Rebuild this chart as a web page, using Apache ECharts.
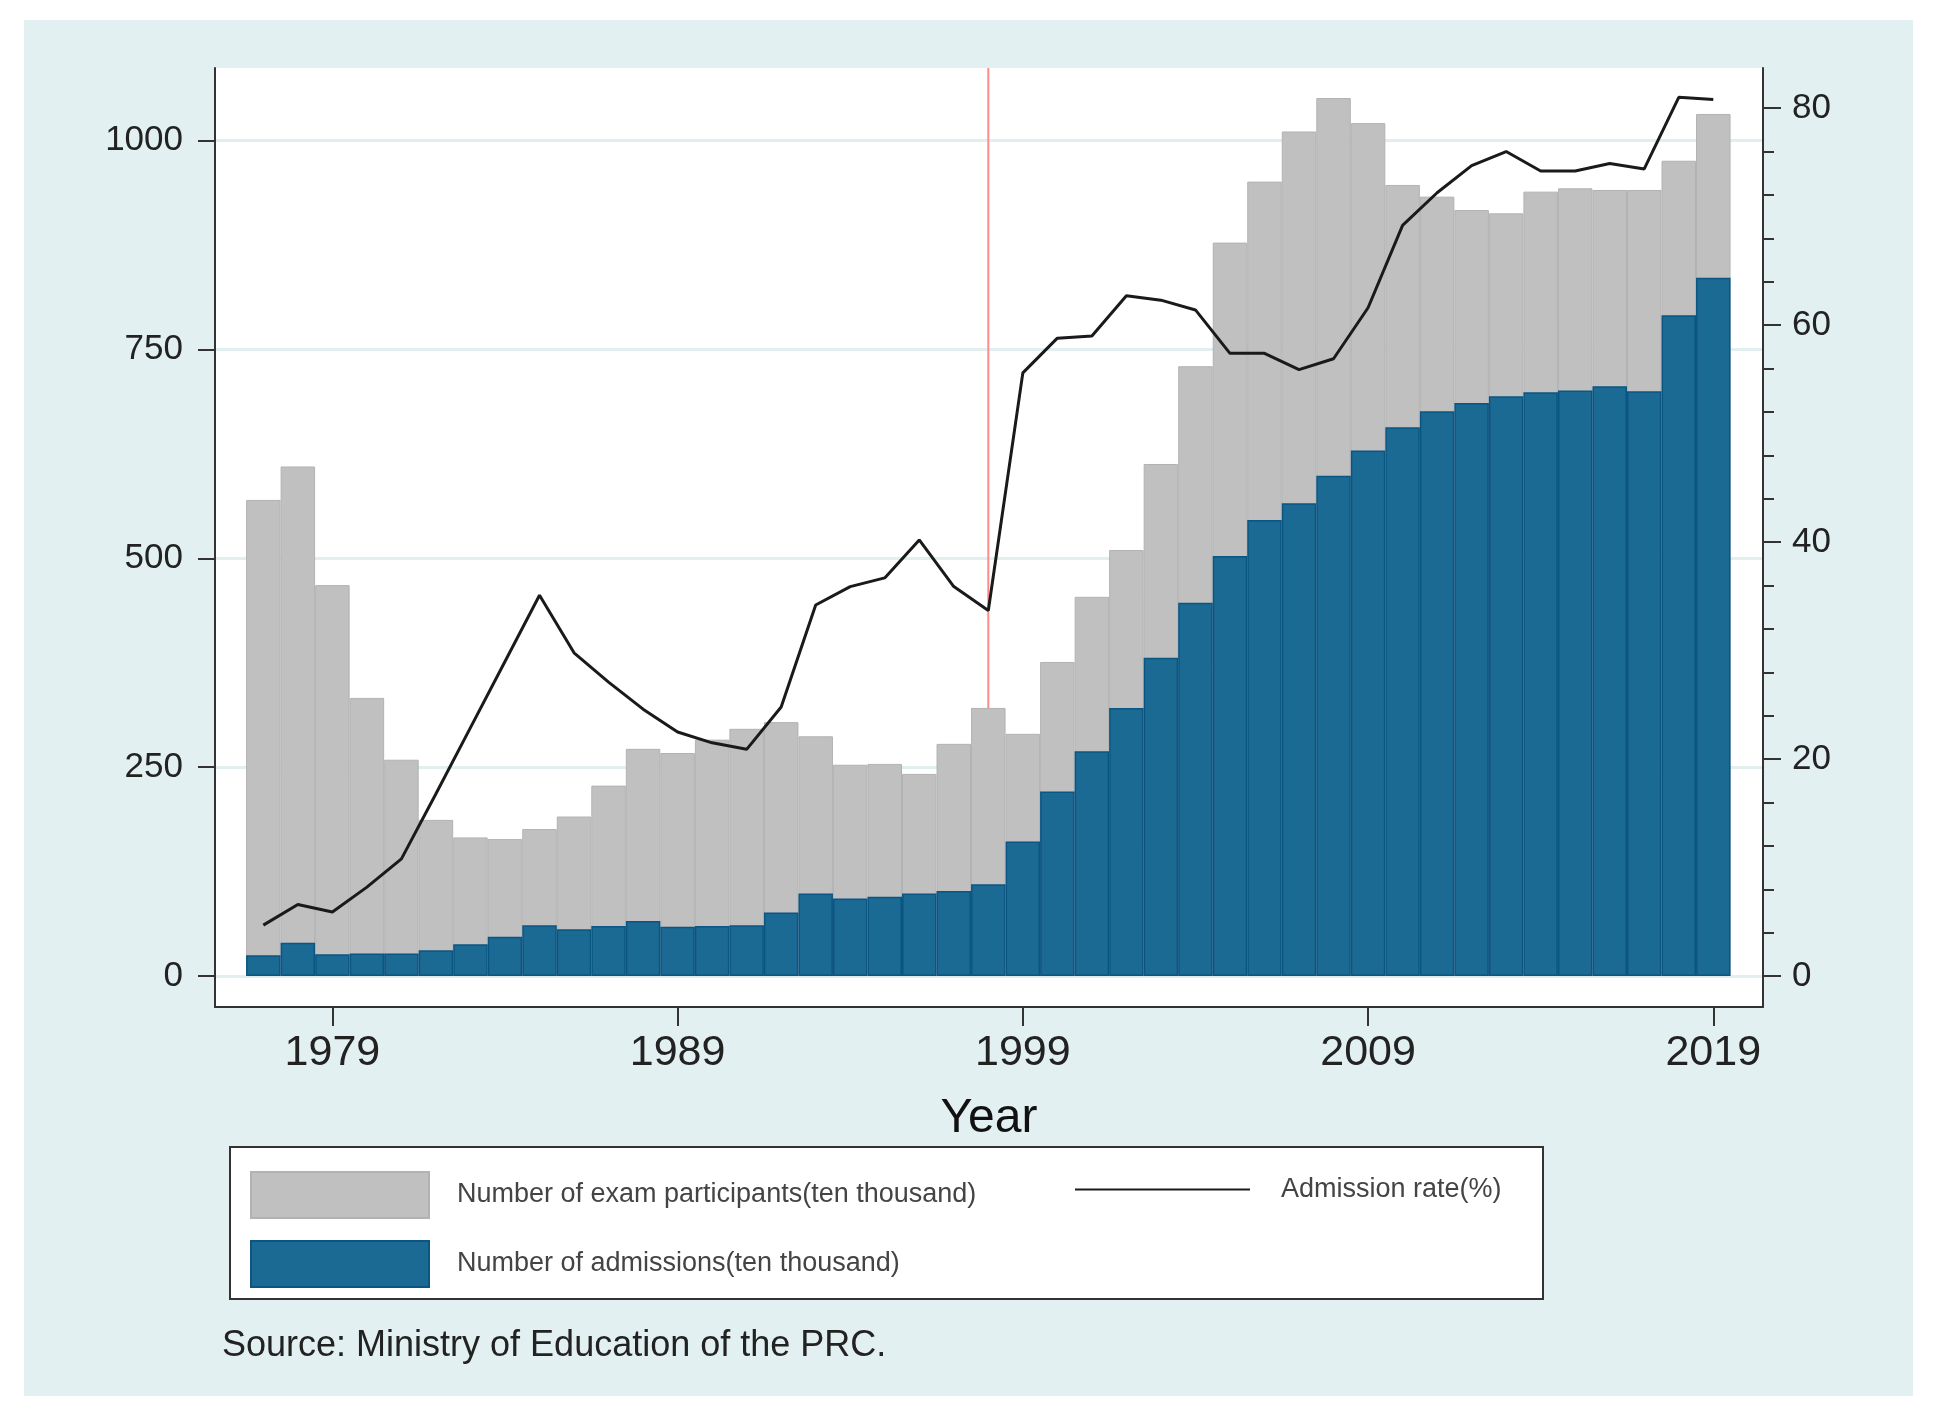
<!DOCTYPE html>
<html>
<head>
<meta charset="utf-8">
<script src="https://cdn.jsdelivr.net/npm/echarts@6/dist/echarts.min.js"></script>
<style>
html,body{margin:0;padding:0;background:#fff;}
#chart{width:1936px;height:1412px;}
</style>
</head>
<body>
<div id="chart"></div>
<script>
const years = [];
for (let y = 1977; y <= 2019; y++) years.push(y);
const participants = [570, 610, 468, 333, 259, 187, 166, 164, 176, 191,
  228, 272, 267, 283, 296, 304, 287, 253, 254, 242,
  278, 321, 290, 376, 454, 510, 613, 730, 878, 951,
  1011, 1051, 1021, 947, 933, 917, 913, 939, 943, 941,
  941, 976, 1032];
const admissions = [25, 40, 26, 27, 27, 31, 38, 47, 61, 56,
  60, 66, 59, 60, 61, 76, 99, 93, 95, 99,
  102, 110, 161, 221, 269, 321, 381, 447, 503, 546,
  566, 599, 629, 657, 676, 686, 694, 699, 701, 706,
  700, 791, 836];
const admissionRate = [4.7, 6.6, 5.9, 8.2, 10.8, 16.8, 22.9, 29.0, 35.1, 29.8,
  27.1, 24.6, 22.5, 21.5, 20.9, 24.8, 34.2, 35.9, 36.7, 40.2,
  35.9, 33.7, 55.6, 58.8, 59.0, 62.7, 62.3, 61.4, 57.4, 57.4,
  55.9, 56.9, 61.6, 69.2, 72.2, 74.7, 76.0, 74.2, 74.2, 74.9,
  74.4, 81.0, 80.8];
const xTickLabels = [1979, 1989, 1999, 2009, 2019];
const leftTicks = [0, 250, 500, 750, 1000];
const rightTicks = [0, 20, 40, 60, 80];
const rightMinorTicks = [4, 8, 12, 16, 24, 28, 32, 36, 44, 48, 52, 56, 64, 68, 72, 76];
const refYear = 1998;

const FONT = 'Liberation Sans, Arial, Helvetica, sans-serif';
const AX = '#333';
const leftMin = -37, leftMax = 1087;
const rightMin = -2.85, rightMax = 83.7;

const chart = echarts.init(document.getElementById('chart'));
const zip = (arr) => years.map((y, i) => [y, arr[i]]);

chart.setOption({
  animation: false,
  backgroundColor: '#ffffff',
  textStyle: { fontFamily: FONT },
  graphic: [
    { type: 'rect', z: -10, silent: true, shape: { x: 24, y: 20, width: 1889, height: 1376 }, style: { fill: '#e2f0f1' } },
    { type: 'rect', z: 1, silent: true, shape: { x: 230, y: 1147, width: 1313, height: 152 }, style: { fill: '#ffffff', stroke: '#333', lineWidth: 2 } },
    { type: 'text', z: 1, silent: true, left: 222, top: 1328, style: { text: 'Source: Ministry of Education of the PRC.', fontSize: 36, fontFamily: FONT, fill: '#222' } }
  ],
  grid: { left: 215, right: 173, top: 68, bottom: 405, show: true, backgroundColor: '#ffffff', borderWidth: 0 },
  legend: [
    {
      left: 245, top: 1166, orient: 'vertical', itemWidth: 178, itemHeight: 46, itemGap: 21,
      icon: 'rect',
      data: ['Number of exam participants(ten thousand)', 'Number of admissions(ten thousand)'],
      textStyle: { fontSize: 27, color: '#444', padding: [0, 0, 0, 23] }
    },
    {
      left: 1069, top: 1166, orient: 'vertical', itemWidth: 175, itemHeight: 46,
      itemStyle: { opacity: 0, color: 'transparent', borderWidth: 0 },
      data: ['Admission rate(%)'],
      textStyle: { fontSize: 27, color: '#444', padding: [4, 0, 0, 26] }
    }
  ],
  xAxis: {
    type: 'value', min: 1975.6, max: 2020.44,
    axisLine: { onZero: false, lineStyle: { color: AX, width: 2 } },
    axisTick: { customValues: xTickLabels, length: 19, lineStyle: { color: AX, width: 2 } },
    axisLabel: { customValues: xTickLabels, fontSize: 43, color: '#222', margin: 25, formatter: v => String(v) },
    splitLine: { show: false },
    name: 'Year', nameLocation: 'middle', nameGap: 88,
    nameTextStyle: { fontSize: 48, color: '#111' }
  },
  yAxis: [
    {
      type: 'value', position: 'left', min: leftMin, max: leftMax,
      axisLine: { show: true, onZero: false, lineStyle: { color: AX, width: 2 } },
      axisTick: { show: true, customValues: leftTicks, length: 17, lineStyle: { color: AX, width: 2 } },
      axisLabel: { customValues: leftTicks, fontSize: 35, color: '#222', margin: 32, padding: [10, 0, 0, 0], formatter: v => String(v) },
      splitLine: { show: true, lineStyle: { color: '#e1eff1', width: 3 } }
    },
    {
      type: 'value', position: 'right', min: rightMin, max: rightMax,
      axisLine: { show: true, onZero: false, lineStyle: { color: AX, width: 2 } },
      axisTick: { show: true, customValues: rightTicks, length: 18, lineStyle: { color: AX, width: 2 } },
      axisLabel: { customValues: rightTicks, fontSize: 35, color: '#222', margin: 29, padding: [10, 0, 0, 0], formatter: v => String(v) },
      splitLine: { show: false }
    },
    {
      type: 'value', position: 'right', min: rightMin, max: rightMax,
      axisLine: { show: false },
      axisTick: { show: true, customValues: rightMinorTicks, length: 11, lineStyle: { color: AX, width: 2 } },
      axisLabel: { show: false },
      splitLine: { show: false }
    }
  ],
  series: [
    {
      name: 'ref', type: 'line', yAxisIndex: 0, z: 1, silent: true, symbol: 'none',
      data: [[refYear, 0], [refYear, leftMax]],
      lineStyle: { color: '#ff8a8a', width: 2 }
    },
    {
      name: 'Number of exam participants(ten thousand)', type: 'bar', yAxisIndex: 0, z: 2,
      barWidth: 34.5, barGap: '-100%',
      data: zip(participants),
      itemStyle: { color: '#c0c0c0', borderColor: '#b2b2b2', borderWidth: 1 }
    },
    {
      name: 'Number of admissions(ten thousand)', type: 'bar', yAxisIndex: 0, z: 2,
      barWidth: 34.5, barGap: '-100%',
      data: zip(admissions),
      itemStyle: { color: '#1b6a94', borderColor: '#0b5582', borderWidth: 1.5 }
    },
    {
      name: 'Admission rate(%)', type: 'line', yAxisIndex: 1, z: 3, symbol: 'none',
      data: zip(admissionRate),
      lineStyle: { color: '#1a1a1a', width: 3 },
      itemStyle: { color: '#1a1a1a' }
    }
  ]
});
</script>
</body>
</html>
